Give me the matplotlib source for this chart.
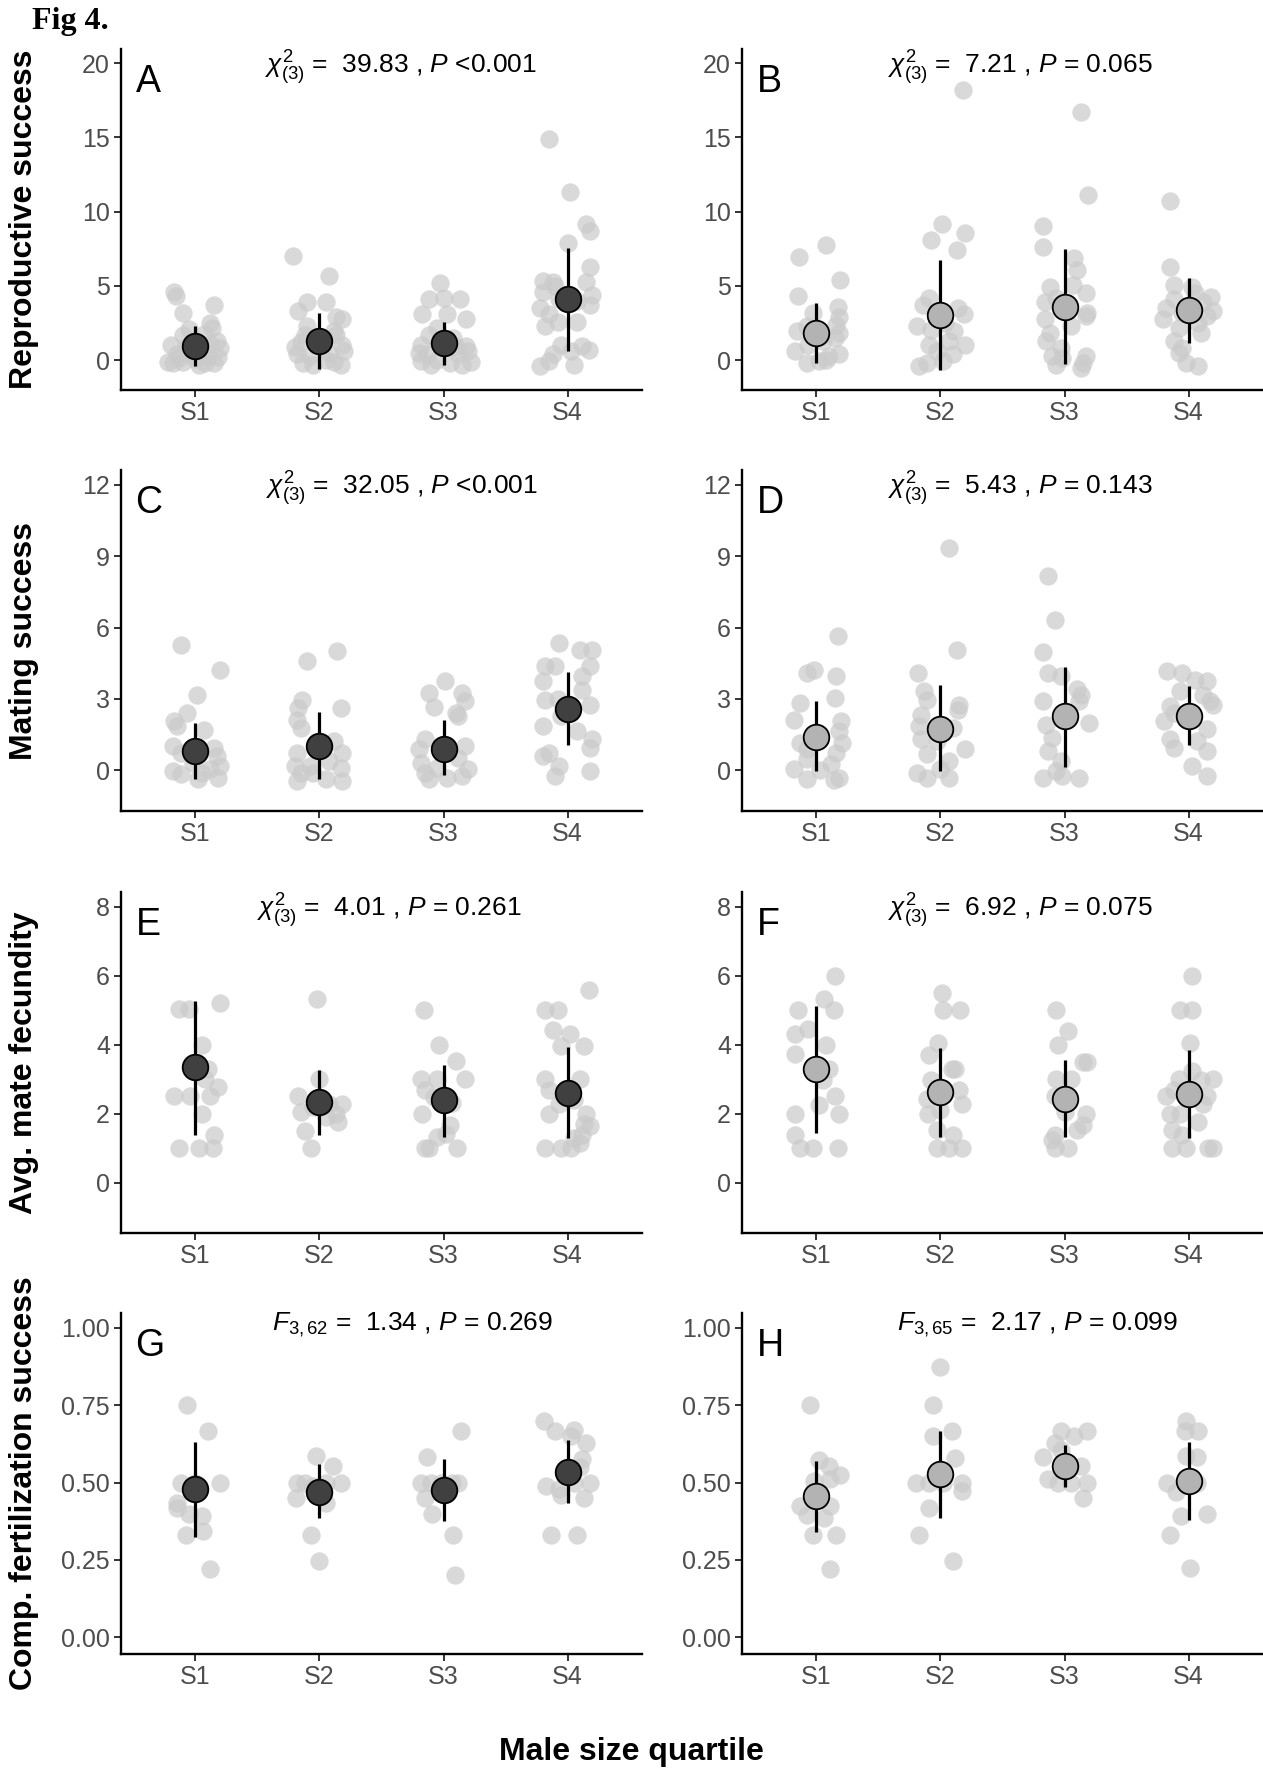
import matplotlib
matplotlib.use("Agg")
import matplotlib.pyplot as plt
import matplotlib.font_manager as fm

# ---------------- data ----------------
categories = ["S1", "S2", "S3", "S4"]

# (jitter offset, value) pairs for each quartile, per panel
A_points = [
    [(-0.17,4.6),(-0.16,4.3),(-0.1,3.2),(0.15,3.7),(0.12,2.5),(0.13,2.2),(-0.05,2.1),(-0.1,1.7),(0.07,1.8),(0.17,1.3),(0.2,0.8),(-0.2,1.0),(-0.15,0.4),(-0.05,0.5),(0.05,0.6),(0.1,0.3),(-0.22,-0.1),(-0.18,-0.2),(-0.1,-0.1),(0.0,0.1),(0.08,-0.15),(0.15,-0.2),(0.18,0.2),(-0.08,0.9),(0.12,1.1),(0.03,-0.3),(-0.13,0.15)],
    [(-0.21,7.0),(0.08,5.7),(-0.1,3.9),(0.05,3.9),(-0.17,3.3),(0.13,2.9),(0.18,2.75),(-0.1,2.3),(0.12,2.0),(-0.12,1.7),(0.13,1.7),(-0.15,1.2),(0.18,1.05),(-0.18,0.4),(-0.08,0.3),(0.08,0.5),(0.17,-0.3),(-0.05,-0.3),(-0.13,-0.2),(0.12,-0.1),(0.05,0.0),(0.2,0.6),(-0.2,0.9)],
    [(-0.03,5.2),(-0.12,4.1),(0.0,4.2),(0.13,4.1),(-0.17,3.1),(0.03,3.1),(0.18,2.75),(-0.05,2.2),(-0.12,1.7),(0.08,1.5),(-0.18,1.05),(0.18,0.95),(-0.13,0.4),(0.12,0.4),(-0.18,-0.07),(-0.1,-0.3),(0.05,-0.2),(0.15,-0.3),(0.22,-0.1),(-0.05,0.0),(0.2,0.6),(-0.2,0.5),(0.1,0.9)],
    [(-0.15,14.9),(0.02,11.3),(0.15,9.2),(0.18,8.7),(0.0,7.9),(0.18,6.25),(-0.2,5.35),(-0.1,5.0),(-0.12,5.3),(0.15,5.3),(0.18,3.75),(-0.22,3.5),(-0.15,3.1),(-0.08,2.6),(0.08,2.6),(-0.18,2.3),(-0.05,1.05),(0.12,0.95),(0.17,0.7),(-0.12,0.4),(0.03,0.6),(-0.22,-0.4),(-0.15,-0.07),(0.05,-0.3),(0.08,4.0),(-0.07,4.1),(0.2,4.4),(-0.2,4.6)],
]
B_points = [
    [(-0.14,6.97),(0.08,7.76),(0.19,5.39),(-0.15,4.33),(0.17,3.6),(-0.03,3.2),(0.18,2.9),(-0.16,2.0),(-0.08,2.3),(0.16,2.4),(0.18,1.85),(0.15,1.5),(0.05,1.3),(-0.17,0.65),(-0.07,1.05),(0.18,0.4),(0.1,0.27),(-0.08,-0.18),(0.02,-0.07),(0.08,0.0)],
    [(0.18,18.2),(0.01,9.2),(0.2,8.6),(-0.08,8.1),(0.13,7.4),(-0.09,4.2),(-0.14,3.75),(0.14,3.5),(0.19,3.1),(-0.19,2.3),(-0.08,2.07),(0.11,2.0),(-0.09,1.05),(0.2,1.05),(-0.03,0.6),(0.1,0.4),(-0.17,-0.4),(-0.11,-0.18),(0.02,-0.07),(0.07,1.3),(0.04,2.5)],
    [(0.13,16.7),(0.19,11.1),(-0.17,9.06),(-0.17,7.6),(0.08,6.9),(0.1,6.1),(0.07,5.1),(-0.12,4.9),(0.17,4.55),(-0.16,3.9),(-0.07,4.2),(0.18,3.2),(0.17,3.0),(-0.16,2.75),(0.05,2.3),(-0.12,1.85),(-0.15,1.3),(-0.03,0.83),(-0.1,0.27),(0.17,0.27),(0.15,-0.18),(-0.07,-0.3),(0.13,-0.5),(-0.02,0.15)],
    [(-0.15,10.7),(-0.15,6.25),(-0.12,5.1),(0.03,4.9),(0.18,4.26),(-0.12,4.1),(0.12,3.9),(-0.18,3.5),(0.2,3.3),(-0.21,2.8),(0.08,2.5),(-0.08,2.2),(0.1,1.85),(-0.12,1.3),(-0.05,0.83),(-0.08,0.5),(-0.02,-0.18),(0.08,-0.4),(0.15,3.0),(-0.05,3.2),(0.05,4.5)],
]
C_points = [
    [(-0.12,5.28),(0.2,4.23),(0.01,3.18),(-0.07,2.41),(-0.17,2.06),(-0.15,1.85),(0.07,1.7),(-0.18,1.0),(0.15,0.94),(-0.12,0.73),(0.17,0.6),(-0.02,0.3),(-0.18,-0.04),(-0.12,-0.18),(0.02,-0.39),(0.18,-0.32),(0.12,0.03),(0.2,0.17),(0.05,-0.1)],
    [(-0.1,4.58),(0.14,5.03),(0.17,2.62),(-0.14,2.97),(-0.17,2.62),(-0.18,2.13),(-0.15,1.78),(0.12,1.22),(-0.18,0.73),(0.18,0.73),(-0.2,0.17),(-0.15,-0.11),(-0.18,-0.46),(-0.05,-0.1),(0.05,-0.39),(0.18,-0.46),(0.17,0.1),(-0.08,0.17),(0.08,0.4)],
    [(0.01,3.74),(-0.12,3.25),(0.15,3.25),(0.17,2.9),(-0.08,2.66),(0.12,2.27),(0.1,2.4),(-0.15,1.29),(-0.2,0.87),(0.17,1.0),(0.12,0.52),(-0.18,0.3),(-0.15,-0.11),(-0.12,-0.39),(0.03,-0.32),(0.15,-0.25),(0.2,0.03),(-0.05,0.1)],
    [(-0.07,5.35),(0.1,5.07),(0.2,5.07),(-0.18,4.37),(-0.1,4.37),(0.18,4.37),(0.12,3.95),(-0.2,3.74),(0.12,3.39),(-0.18,2.97),(-0.08,3.0),(0.18,2.76),(-0.05,2.27),(-0.2,1.85),(0.08,1.64),(0.2,1.29),(0.18,0.94),(-0.15,0.73),(-0.2,0.59),(-0.07,0.17),(-0.1,-0.25),(0.18,-0.04)],
]
D_points = [
    [(0.17,5.66),(-0.08,4.09),(-0.02,4.23),(0.16,3.95),(0.15,3.04),(-0.13,2.83),(-0.18,2.13),(0.2,2.06),(0.18,1.64),(-0.13,1.15),(0.21,1.15),(-0.08,0.87),(0.16,0.73),(-0.08,0.45),(0.12,0.24),(-0.18,0.03),(0.03,0.0),(-0.08,-0.39),(0.18,-0.32),(0.14,-0.4)],
    [(0.07,9.34),(0.13,5.07),(-0.18,4.09),(-0.13,3.32),(-0.11,2.97),(0.15,2.76),(-0.16,2.34),(0.14,2.55),(-0.17,1.85),(0.1,1.78),(-0.16,1.29),(-0.03,1.22),(0.2,0.87),(-0.11,0.66),(0.07,0.38),(-0.19,-0.11),(-0.11,-0.32),(0.07,-0.32),(0.0,0.03)],
    [(-0.13,8.15),(-0.08,6.33),(-0.17,4.96),(-0.13,4.09),(-0.03,3.95),(0.13,3.18),(-0.17,2.9),(0.12,2.9),(-0.15,1.92),(0.2,2.0),(-0.1,1.36),(-0.13,0.8),(-0.03,0.38),(-0.17,-0.32),(-0.02,-0.25),(0.12,-0.32),(-0.07,-0.04),(0.1,3.4)],
    [(-0.17,4.16),(-0.05,4.09),(0.05,3.81),(0.15,3.74),(-0.07,3.32),(0.12,3.18),(0.2,2.76),(-0.15,2.69),(-0.2,2.06),(0.15,1.71),(-0.15,1.29),(0.07,1.22),(0.15,0.8),(-0.12,0.94),(0.03,0.17),(0.15,-0.25),(-0.12,2.4),(0.17,2.9)],
]
E_points = [
    [(-0.13,5.03),(-0.05,5.03),(0.2,5.22),(0.05,4.0),(0.08,3.02),(0.18,2.78),(-0.17,2.51),(-0.04,2.51),(0.12,2.51),(0.05,2.0),(0.15,1.37),(-0.13,1.0),(0.03,1.0),(0.14,1.0),(0.1,3.3)],
    [(-0.02,5.33),(0.0,3.02),(-0.17,2.51),(-0.15,2.05),(-0.12,1.5),(-0.07,1.0),(0.08,2.29),(0.18,2.29),(0.13,2.0),(0.15,1.77),(0.05,1.9),(-0.05,2.2)],
    [(-0.16,5.0),(-0.04,4.0),(0.1,3.52),(0.17,3.0),(-0.18,3.0),(-0.05,3.0),(-0.15,2.68),(-0.08,2.49),(-0.17,2.0),(0.05,1.66),(-0.05,1.32),(0.02,1.4),(-0.15,1.0),(0.11,1.0),(0.07,2.3),(-0.12,1.0)],
    [(0.17,5.58),(-0.18,5.0),(-0.08,5.0),(-0.12,4.42),(0.02,4.3),(-0.05,3.97),(0.13,3.97),(-0.18,3.02),(0.1,3.02),(-0.15,2.68),(-0.07,2.29),(0.05,2.4),(-0.15,2.0),(0.15,2.0),(0.13,1.7),(0.18,1.65),(0.12,1.37),(0.05,1.3),(-0.18,1.0),(-0.05,1.0),(0.03,1.0),(0.1,1.15),(0.0,2.6)],
]
F_points = [
    [(0.15,5.99),(0.06,5.34),(-0.15,5.0),(0.14,5.0),(-0.07,4.47),(-0.17,4.32),(0.08,4.0),(-0.17,3.74),(0.05,2.97),(0.15,2.5),(0.02,2.24),(-0.17,2.0),(0.18,2.0),(-0.17,1.37),(-0.13,1.0),(-0.03,1.0),(0.17,1.0),(0.1,3.3)],
    [(0.01,5.5),(0.02,5.0),(0.16,5.0),(-0.02,4.05),(-0.09,3.7),(0.09,3.3),(0.12,3.3),(-0.08,2.97),(0.15,2.69),(-0.11,2.44),(0.17,2.29),(-0.1,2.0),(-0.03,1.52),(0.1,1.37),(-0.03,1.0),(0.07,1.0),(0.17,1.0),(0.0,2.1)],
    [(-0.07,5.0),(0.03,4.39),(-0.05,4.0),(0.15,3.49),(0.18,3.49),(-0.07,3.0),(0.05,3.0),(-0.08,2.5),(0.17,2.0),(0.0,2.05),(0.15,1.66),(0.1,1.52),(-0.08,1.37),(-0.1,1.23),(-0.08,1.0),(0.03,1.0)],
    [(0.03,5.99),(-0.07,5.0),(0.03,5.0),(0.01,4.05),(0.03,3.25),(-0.08,3.0),(0.2,3.0),(0.1,2.97),(-0.12,2.68),(-0.18,2.5),(0.15,2.5),(0.12,2.29),(-0.15,2.0),(-0.07,2.0),(0.08,1.77),(-0.13,1.52),(-0.05,1.37),(-0.13,1.0),(-0.02,1.0),(0.16,1.0),(0.2,1.0)],
]
G_points = [
    [(-0.07,0.75),(0.1,0.666),(-0.12,0.5),(0.2,0.5),(0.0,0.5),(-0.15,0.434),(-0.15,0.418),(-0.05,0.40),(0.05,0.391),(-0.08,0.332),(0.06,0.343),(0.12,0.221)],
    [(-0.03,0.586),(0.11,0.554),(-0.18,0.5),(-0.12,0.5),(-0.05,0.49),(0.05,0.5),(0.17,0.5),(-0.19,0.45),(0.05,0.434),(-0.07,0.332),(0.0,0.246)],
    [(0.14,0.666),(-0.13,0.583),(-0.18,0.5),(-0.1,0.5),(-0.02,0.5),(0.07,0.5),(0.12,0.5),(-0.15,0.45),(-0.09,0.399),(0.08,0.332),(0.09,0.2)],
    [(-0.19,0.698),(-0.1,0.666),(0.05,0.67),(0.15,0.627),(0.03,0.65),(0.12,0.575),(-0.17,0.49),(-0.07,0.48),(0.05,0.5),(0.18,0.5),(0.13,0.45),(-0.05,0.46),(-0.13,0.332),(0.08,0.332),(0.1,0.55)],
]
H_points = [
    [(-0.05,0.75),(0.02,0.574),(0.1,0.553),(0.19,0.523),(-0.02,0.505),(0.11,0.51),(-0.13,0.423),(-0.08,0.396),(0.11,0.423),(0.06,0.386),(-0.03,0.332),(0.16,0.332),(0.11,0.221)],
    [(0.0,0.874),(-0.06,0.75),(0.09,0.666),(-0.06,0.65),(0.12,0.58),(-0.2,0.5),(-0.09,0.5),(0.02,0.5),(0.17,0.5),(0.17,0.473),(-0.09,0.418),(-0.17,0.332),(0.1,0.246)],
    [(-0.03,0.666),(0.08,0.65),(0.18,0.666),(-0.08,0.627),(-0.03,0.605),(-0.17,0.583),(0.13,0.553),(-0.05,0.5),(0.05,0.5),(0.18,0.5),(0.15,0.45),(-0.13,0.51)],
    [(-0.02,0.698),(-0.03,0.666),(0.08,0.666),(-0.02,0.586),(0.07,0.583),(-0.17,0.5),(0.07,0.5),(-0.1,0.468),(0.15,0.399),(-0.06,0.391),(-0.15,0.332),(0.01,0.224)],
]

# group means and error bar limits
A_mean = [0.95, 1.29, 1.13, 4.15]; A_lo = [-0.36, -0.59, -0.30, 0.61]; A_hi = [2.30, 3.16, 2.57, 7.53]
B_mean = [1.85, 3.02, 3.60, 3.36]; B_lo = [-0.18, -0.63, -0.25, 1.17]; B_hi = [3.83, 6.74, 7.49, 5.57]
C_mean = [0.80, 1.01, 0.91, 2.58]; C_lo = [-0.39, -0.39, -0.22, 1.05]; C_hi = [1.99, 2.44, 2.09, 4.13]
D_mean = [1.39, 1.75, 2.27, 2.27]; D_lo = [-0.04, -0.04, 0.13, 1.04]; D_hi = [2.90, 3.60, 4.34, 3.53]
E_mean = [3.34, 2.34, 2.39, 2.61]; E_lo = [1.39, 1.37, 1.32, 1.30]; E_hi = [5.26, 3.28, 3.42, 3.94]
F_mean = [3.29, 2.62, 2.44, 2.56]; F_lo = [1.45, 1.32, 1.32, 1.30]; F_hi = [5.13, 3.90, 3.55, 3.84]
G_mean = [0.478, 0.470, 0.476, 0.534]; G_lo = [0.324, 0.386, 0.375, 0.434]; G_hi = [0.631, 0.559, 0.577, 0.636]
H_mean = [0.456, 0.527, 0.553, 0.506]; H_lo = [0.339, 0.386, 0.485, 0.378]; H_hi = [0.569, 0.666, 0.623, 0.631]

# axis ticks / labels / stats
row_yticks = [[0, 5, 10, 15, 20], [0, 3, 6, 9, 12], [0, 2, 4, 6, 8], [0.00, 0.25, 0.50, 0.75, 1.00]]
row_yticklabels = [["0", "5", "10", "15", "20"], ["0", "3", "6", "9", "12"],
                   ["0", "2", "4", "6", "8"], ["0.00", "0.25", "0.50", "0.75", "1.00"]]
row_ylim = [(-2.0, 20.95), (-1.72, 12.63), (-1.46, 8.43), (-0.054, 1.048)]
row_ylabels = ["Reproductive success", "Mating success", "Avg. mate fecundity", "Comp. fertilization success"]
panel_letters = ["A", "B", "C", "D", "E", "F", "G", "H"]
stat_texts = [
    r"$\chi^{2}_{(3)}$ =  39.83 , $P$ <0.001",
    r"$\chi^{2}_{(3)}$ =  7.21 , $P$ = 0.065",
    r"$\chi^{2}_{(3)}$ =  32.05 , $P$ <0.001",
    r"$\chi^{2}_{(3)}$ =  5.43 , $P$ = 0.143",
    r"$\chi^{2}_{(3)}$ =  4.01 , $P$ = 0.261",
    r"$\chi^{2}_{(3)}$ =  6.92 , $P$ = 0.075",
    r"$F_{3,62}$ =  1.34 , $P$ = 0.269",
    r"$F_{3,65}$ =  2.17 , $P$ = 0.099",
]
xlabel = "Male size quartile"
fig_title = "Fig 4."

# ---------------- styling ----------------
SANS = "Liberation Sans"
plt.rcParams["font.family"] = [SANS, "DejaVu Sans"]
plt.rcParams["mathtext.fontset"] = "custom"
plt.rcParams["mathtext.rm"] = SANS
plt.rcParams["mathtext.it"] = SANS + ":italic"
plt.rcParams["mathtext.bf"] = SANS + ":bold"

W, H = 1263, 1773
fig = plt.figure(figsize=(W / 100, H / 100), dpi=100)
fig.patch.set_facecolor("white")

row_tops = [49, 470, 892, 1313]
ax_h = 341
col_lefts = [121, 742]
ax_w = 521

panels = [
    (A_points, A_mean, A_lo, A_hi), (B_points, B_mean, B_lo, B_hi),
    (C_points, C_mean, C_lo, C_hi), (D_points, D_mean, D_lo, D_hi),
    (E_points, E_mean, E_lo, E_hi), (F_points, F_mean, F_lo, F_hi),
    (G_points, G_mean, G_lo, G_hi), (H_points, H_mean, H_lo, H_hi),
]
stat_x = [0.538, 0.534, 0.54, 0.534, 0.515, 0.534, 0.559, 0.568]

for i, (pts, mean, lo, hi) in enumerate(panels):
    r, c = divmod(i, 2)
    left = col_lefts[c] / W
    bottom = 1 - (row_tops[r] + ax_h) / H
    ax = fig.add_axes([left, bottom, ax_w / W, ax_h / H])
    xs_all, ys_all = [], []
    for k, grp in enumerate(pts):
        for off, v in grp:
            xs_all.append(k + 1 + off)
            ys_all.append(v)
    ax.scatter(xs_all, ys_all, s=175, color="#CACACA", alpha=0.7, linewidths=0, zorder=1)
    xc = list(range(1, 5))
    ax.vlines(xc, lo, hi, colors="black", linewidth=2.3, zorder=2)
    fill = "#404040" if c == 0 else "#B3B3B3"
    ax.scatter(xc, mean, s=340, facecolor=fill, edgecolor="black", linewidth=1.3, zorder=3)

    ax.set_xlim(0.4, 4.6)
    ax.set_ylim(*row_ylim[r])
    ax.set_xticks(xc)
    ax.set_xticklabels(categories)
    ax.set_yticks(row_yticks[r])
    ax.set_yticklabels(row_yticklabels[r])
    for s in ["top", "right"]:
        ax.spines[s].set_visible(False)
    for s in ["left", "bottom"]:
        ax.spines[s].set_linewidth(1.7)
        ax.spines[s].set_color("black")
    ax.tick_params(axis="both", length=5, width=1.4, color="#333333",
                   labelsize=18, labelcolor="#4D4D4D", pad=3)
    ax.text(0.028, 0.955, panel_letters[i], transform=ax.transAxes, ha="left", va="top",
            fontsize=27, color="black")
    ax.text(stat_x[i], 0.945 if r < 3 else 0.965, stat_texts[i], transform=ax.transAxes,
            ha="center", va="center", fontsize=19, color="black")
    ax.patch.set_alpha(0)

    if c == 0:
        yc = 1 - (row_tops[r] + ax_h / 2) / H
        fig.text(24 / W, yc, row_ylabels[r], rotation=90, ha="center", va="center",
                 fontsize=23, fontweight="bold")

fig.text(0.5, 1 - 1752 / H, xlabel, ha="center", va="center", fontsize=23,
         fontweight="bold")
fig.text(32 / W, 1 - 22 / H, fig_title, ha="left", va="center", fontsize=23,
         fontweight="bold", family=["Liberation Serif", "DejaVu Serif"])

fig.savefig("out.png", dpi=100, facecolor="white")
